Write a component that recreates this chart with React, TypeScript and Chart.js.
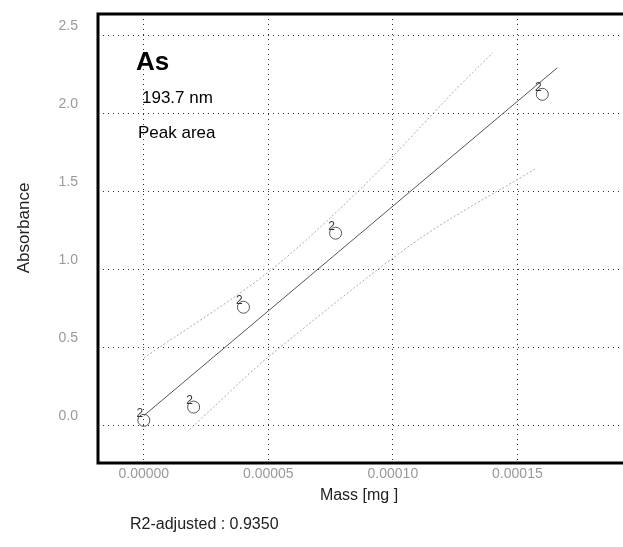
import { useEffect, useRef } from 'react';
import { Chart, registerables } from 'chart.js';

Chart.register(...registerables);

// Calibration standards (mass in mg, absorbance)
const massValues = [0, 0.00002, 0.00004, 0.000077, 0.00016];
const absValues = [0.03, 0.115, 0.755, 1.23, 2.12];
const replicateLabels = ['2', '2', '2', '2', '2'];

// Regression line
const fitMass = [0, 0.000166];
const fitAbs = [0.06, 2.29];

// Confidence band (upper / lower)
const upperMass = [0, 0.00005, 0.00009, 0.000124, 0.00014];
const upperAbs = [0.43, 0.98, 1.56, 2.13, 2.385];
const lowerMass = [0.0000184, 0.000028, 0.00005, 0.00011, 0.000157];
const lowerAbs = [-0.03, 0.115, 0.436, 1.186, 1.64];

// Axis ticks
const xTicks = [0, 0.00005, 0.0001, 0.00015];
const yTicks = [0, 0.5, 1.0, 1.5, 2.0, 2.5];

const element = 'As';
const wavelength = '193.7 nm';
const mode = 'Peak area';
const xTitle = 'Mass [mg ]';
const yTitle = 'Absorbance';
const r2Text = 'R2-adjusted : 0.9350';

const FONT = '"Liberation Sans", Arial, sans-serif';

export default function App() {
  const ref = useRef<HTMLCanvasElement | null>(null);

  useEffect(() => {
    if (!ref.current) return;
    const annot = {
      id: 'annot',
      afterDraw(chart: any) {
        const { ctx, chartArea: a } = chart;
        ctx.save();
        // frame: left, top, bottom
        ctx.strokeStyle = '#000';
        ctx.lineWidth = 3;
        ctx.beginPath();
        ctx.moveTo(chart.width + 2, a.top);
        ctx.lineTo(a.left, a.top);
        ctx.lineTo(a.left, a.bottom);
        ctx.lineTo(chart.width + 2, a.bottom);
        ctx.stroke();

        // replicate labels
        const meta = chart.getDatasetMeta(0);
        ctx.fillStyle = '#333';
        ctx.font = `12px ${FONT}`;
        ctx.textAlign = 'center';
        ctx.textBaseline = 'alphabetic';
        meta.data.forEach((el: any, i: number) => {
          ctx.fillText(replicateLabels[i], el.x - 4, el.y - 3);
        });

        // annotation text
        ctx.textAlign = 'left';
        ctx.fillStyle = '#000';
        ctx.font = `bold 26px ${FONT}`;
        ctx.fillText(element, 136, 70);
        ctx.font = `17px ${FONT}`;
        ctx.fillText(wavelength, 142, 103);
        ctx.fillText(mode, 138, 138);

        // axis titles
        ctx.fillStyle = '#222';
        ctx.font = `16px ${FONT}`;
        ctx.textAlign = 'center';
        ctx.fillText(xTitle, 359, 500);
        ctx.save();
        ctx.translate(24, 228);
        ctx.rotate(-Math.PI / 2);
        ctx.textBaseline = 'middle';
        ctx.font = `17px ${FONT}`;
        ctx.fillText(yTitle, 0, 0);
        ctx.restore();

        ctx.textAlign = 'left';
        ctx.font = `16px ${FONT}`;
        ctx.fillText(r2Text, 130, 529);
        ctx.restore();
      },
    };

    const chart = new Chart(ref.current, {
      type: 'scatter',
      data: {
        datasets: [
          {
            data: massValues.map((x, i) => ({ x, y: absValues[i] })),
            pointStyle: 'circle',
            pointRadius: 6,
            pointBorderColor: '#555',
            pointBackgroundColor: 'rgba(0,0,0,0)',
            pointBorderWidth: 1,
            showLine: false,
          },
          {
            data: fitMass.map((x, i) => ({ x, y: fitAbs[i] })),
            showLine: true,
            borderColor: '#555',
            borderWidth: 1,
            pointRadius: 0,
          },
          {
            data: upperMass.map((x, i) => ({ x, y: upperAbs[i] })),
            showLine: true,
            borderColor: '#aaa',
            borderWidth: 1,
            borderDash: [2, 2],
            tension: 0.3,
            pointRadius: 0,
          },
          {
            data: lowerMass.map((x, i) => ({ x, y: lowerAbs[i] })),
            showLine: true,
            borderColor: '#aaa',
            borderWidth: 1,
            borderDash: [2, 2],
            tension: 0.3,
            pointRadius: 0,
          },
        ],
      },
      options: {
        responsive: false,
        maintainAspectRatio: false,
        animation: false,
        layout: { autoPadding: false, padding: { top: 14, left: 0, right: 0, bottom: 0 } },
        plugins: { legend: { display: false }, tooltip: { enabled: false } },
        scales: {
          x: {
            type: 'linear',
            min: -0.0000184,
            max: 0.0001924,
            afterBuildTicks: (axis: any) => {
              axis.ticks = xTicks.map((v) => ({ value: v }));
            },
            afterFit: (axis: any) => {
              axis.height = 84;
              axis.paddingLeft = 0;
              axis.paddingRight = 0;
            },
            ticks: {
              autoSkip: false,
              maxRotation: 0,
              padding: 3,
              color: '#999',
              font: { family: FONT, size: 14 },
              callback: (v: any) => Number(v).toFixed(5),
            },
            grid: { color: '#333', lineWidth: 1, drawTicks: false },
            border: { display: false, dash: [1, 4] },
          },
          y: {
            type: 'linear',
            min: -0.2436,
            max: 2.635,
            afterBuildTicks: (axis: any) => {
              axis.ticks = yTicks.map((v) => ({ value: v }));
            },
            afterFit: (axis: any) => {
              axis.width = 98;
              axis.paddingTop = 0;
              axis.paddingBottom = 0;
            },
            ticks: {
              padding: 20,
              labelOffset: -9,
              color: '#999',
              font: { family: FONT, size: 14 },
              callback: (v: any) => Number(v).toFixed(1),
            },
            grid: { color: '#333', lineWidth: 1, drawTicks: false },
            border: { display: false, dash: [1, 4] },
          },
        },
      },
      plugins: [annot],
    } as any);
    return () => chart.destroy();
  }, []);

  return (
    <div style={{ position: 'absolute', left: 0, top: 0, width: 623, height: 547, background: '#fff', overflow: 'hidden' }}>
      <canvas ref={ref} width={623} height={547} style={{ display: 'block', width: 623, height: 547 }} />
    </div>
  );
}
